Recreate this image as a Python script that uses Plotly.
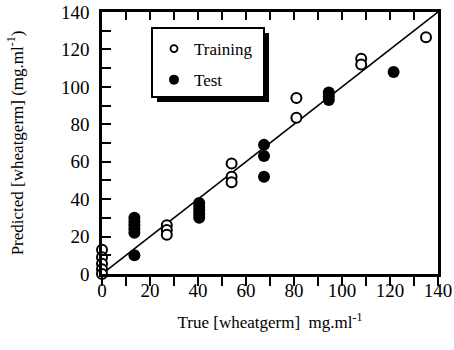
import plotly.graph_objects as go

# Calibration data: true vs predicted wheatgerm concentration (mg/ml)
train_true = [0, 0, 0, 0, 0, 0, 27, 27, 27, 54, 54, 54, 81, 81, 108, 108, 135]
train_pred = [13, 9, 5.5, 2.5, 0, -2, 26, 23.5, 21, 59, 52, 49, 94, 83.5, 115, 112, 126.5]

test_true = [13.5, 13.5, 13.5, 13.5, 13.5, 13.5, 40.5, 40.5, 40.5, 40.5, 40.5,
             67.5, 67.5, 67.5, 94.5, 94.5, 94.5, 121.5]
test_pred = [30, 28, 26, 24, 22, 10, 38, 36, 34, 32, 30,
             69, 63, 52, 97, 95, 93, 108]

ideal = [0, 140]
tick_vals = [0, 20, 40, 60, 80, 100, 120, 140]

FONT = "Liberation Serif"

fig = go.Figure()

# identity line y = x
fig.add_trace(go.Scatter(x=ideal, y=ideal, mode="lines",
                         line=dict(color="black", width=1.6),
                         showlegend=False, hoverinfo="skip"))

fig.add_trace(go.Scatter(x=train_true, y=train_pred, mode="markers", name="Training",
                         showlegend=False, cliponaxis=False,
                         marker=dict(symbol="circle", size=10, color="white",
                                     line=dict(color="black", width=2))))
fig.add_trace(go.Scatter(x=test_true, y=test_pred, mode="markers", name="Test",
                         showlegend=False, cliponaxis=False,
                         marker=dict(symbol="circle", size=12, color="black",
                                     line=dict(width=0))))

# legend entries use slightly smaller symbols than the plotted points
fig.add_trace(go.Scatter(x=[None], y=[None], mode="markers", name="Training",
                         legendgroup="a",
                         marker=dict(symbol="circle", size=7, color="white",
                                     line=dict(color="black", width=1.8))))
fig.add_trace(go.Scatter(x=[None], y=[None], mode="markers", name="Test",
                         legendgroup="b",
                         marker=dict(symbol="circle", size=10, color="black",
                                     line=dict(width=0))))

# invisible traces so the extra axes are drawn
fig.add_trace(go.Scatter(x=[0, 140], y=[None, None], xaxis="x2", showlegend=False,
                         hoverinfo="skip"))
fig.add_trace(go.Scatter(x=[0, 140], y=[None, None], xaxis="x3", showlegend=False,
                         hoverinfo="skip"))

L, R, T, B = 102, 16, 12, 76
W, H = 454, 350
pw, ph = W - L - R, H - T - B


def px_x(p):
    return (p - L) / pw


def px_y(p):
    return (H - B - p) / ph


# legend frame with drop shadow
bx0, bx1, by0, by1 = 152, 264, 28, 97
shadow = 5
fig.add_shape(type="rect", xref="paper", yref="paper",
              x0=px_x(bx0 + shadow), x1=px_x(bx1 + shadow),
              y0=px_y(by1 + shadow), y1=px_y(by0 + shadow),
              fillcolor="black", line=dict(width=0), layer="above")
fig.add_shape(type="rect", xref="paper", yref="paper",
              x0=px_x(bx0), x1=px_x(bx1), y0=px_y(by1), y1=px_y(by0),
              fillcolor="white", line=dict(color="black", width=2), layer="above")

tick_font = dict(family=FONT, size=19, color="black")
minor_ticks = dict(dtick=10, tick0=0, ticklen=9, tickwidth=2, tickcolor="black")

fig.update_layout(
    width=W, height=H,
    margin=dict(l=L, r=R, t=T, b=B),
    paper_bgcolor="white", plot_bgcolor="white",
    font=dict(family=FONT, color="black"),
    # bottom axis: frame line and outward ticks
    xaxis=dict(range=[0, 140], showgrid=False, zeroline=False, automargin=False,
               showline=True, linecolor="black", linewidth=2.5,
               ticks="outside", ticklen=9, tickwidth=2, tickcolor="black",
               tickvals=tick_vals, showticklabels=False,
               minor=dict(minor_ticks, ticks="outside"),
               title=dict(text="True [wheatgerm]  mg.ml<sup>-1</sup>",
                          font=dict(family=FONT, size=17), standoff=32)),
    # top frame line with inward ticks
    xaxis2=dict(range=[0, 140], overlaying="x", anchor="y", side="top",
                automargin=False, showline=True, linecolor="black", linewidth=2.5,
                showgrid=False, zeroline=False, showticklabels=False,
                ticks="inside", ticklen=8, tickwidth=2, tickcolor="black",
                tickvals=tick_vals,
                minor=dict(minor_ticks, ticks="inside", ticklen=8)),
    # bottom tick labels, set just under the tick marks
    xaxis3=dict(range=[0, 140], overlaying="x", anchor="free", position=0,
                side="bottom", automargin=False, showline=False,
                showgrid=False, zeroline=False, ticks="",
                ticklabelstandoff=3,
                tickvals=tick_vals, tickfont=tick_font),
    yaxis=dict(range=[0, 140], showgrid=False, zeroline=False, automargin=False,
               showline=True, mirror=True, linecolor="black", linewidth=2.5,
               ticks="inside", ticklen=9, tickwidth=2, tickcolor="black",
               tickvals=tick_vals, tickfont=tick_font,
               ticklabelstandoff=6,
               minor=dict(minor_ticks, ticks="inside"),
               title=dict(text="Predicted [wheatgerm] (mg.ml<sup>-1</sup>)",
                          font=dict(family=FONT, size=17), standoff=34)),
    legend=dict(x=px_x(bx0 + 2), y=px_y(by0 + 3), xanchor="left", yanchor="top",
                bgcolor="rgba(0,0,0,0)", borderwidth=0,
                traceorder="grouped", tracegroupgap=6,
                font=dict(family=FONT, size=17, color="black")),
)

fig.write_html("out.html")
